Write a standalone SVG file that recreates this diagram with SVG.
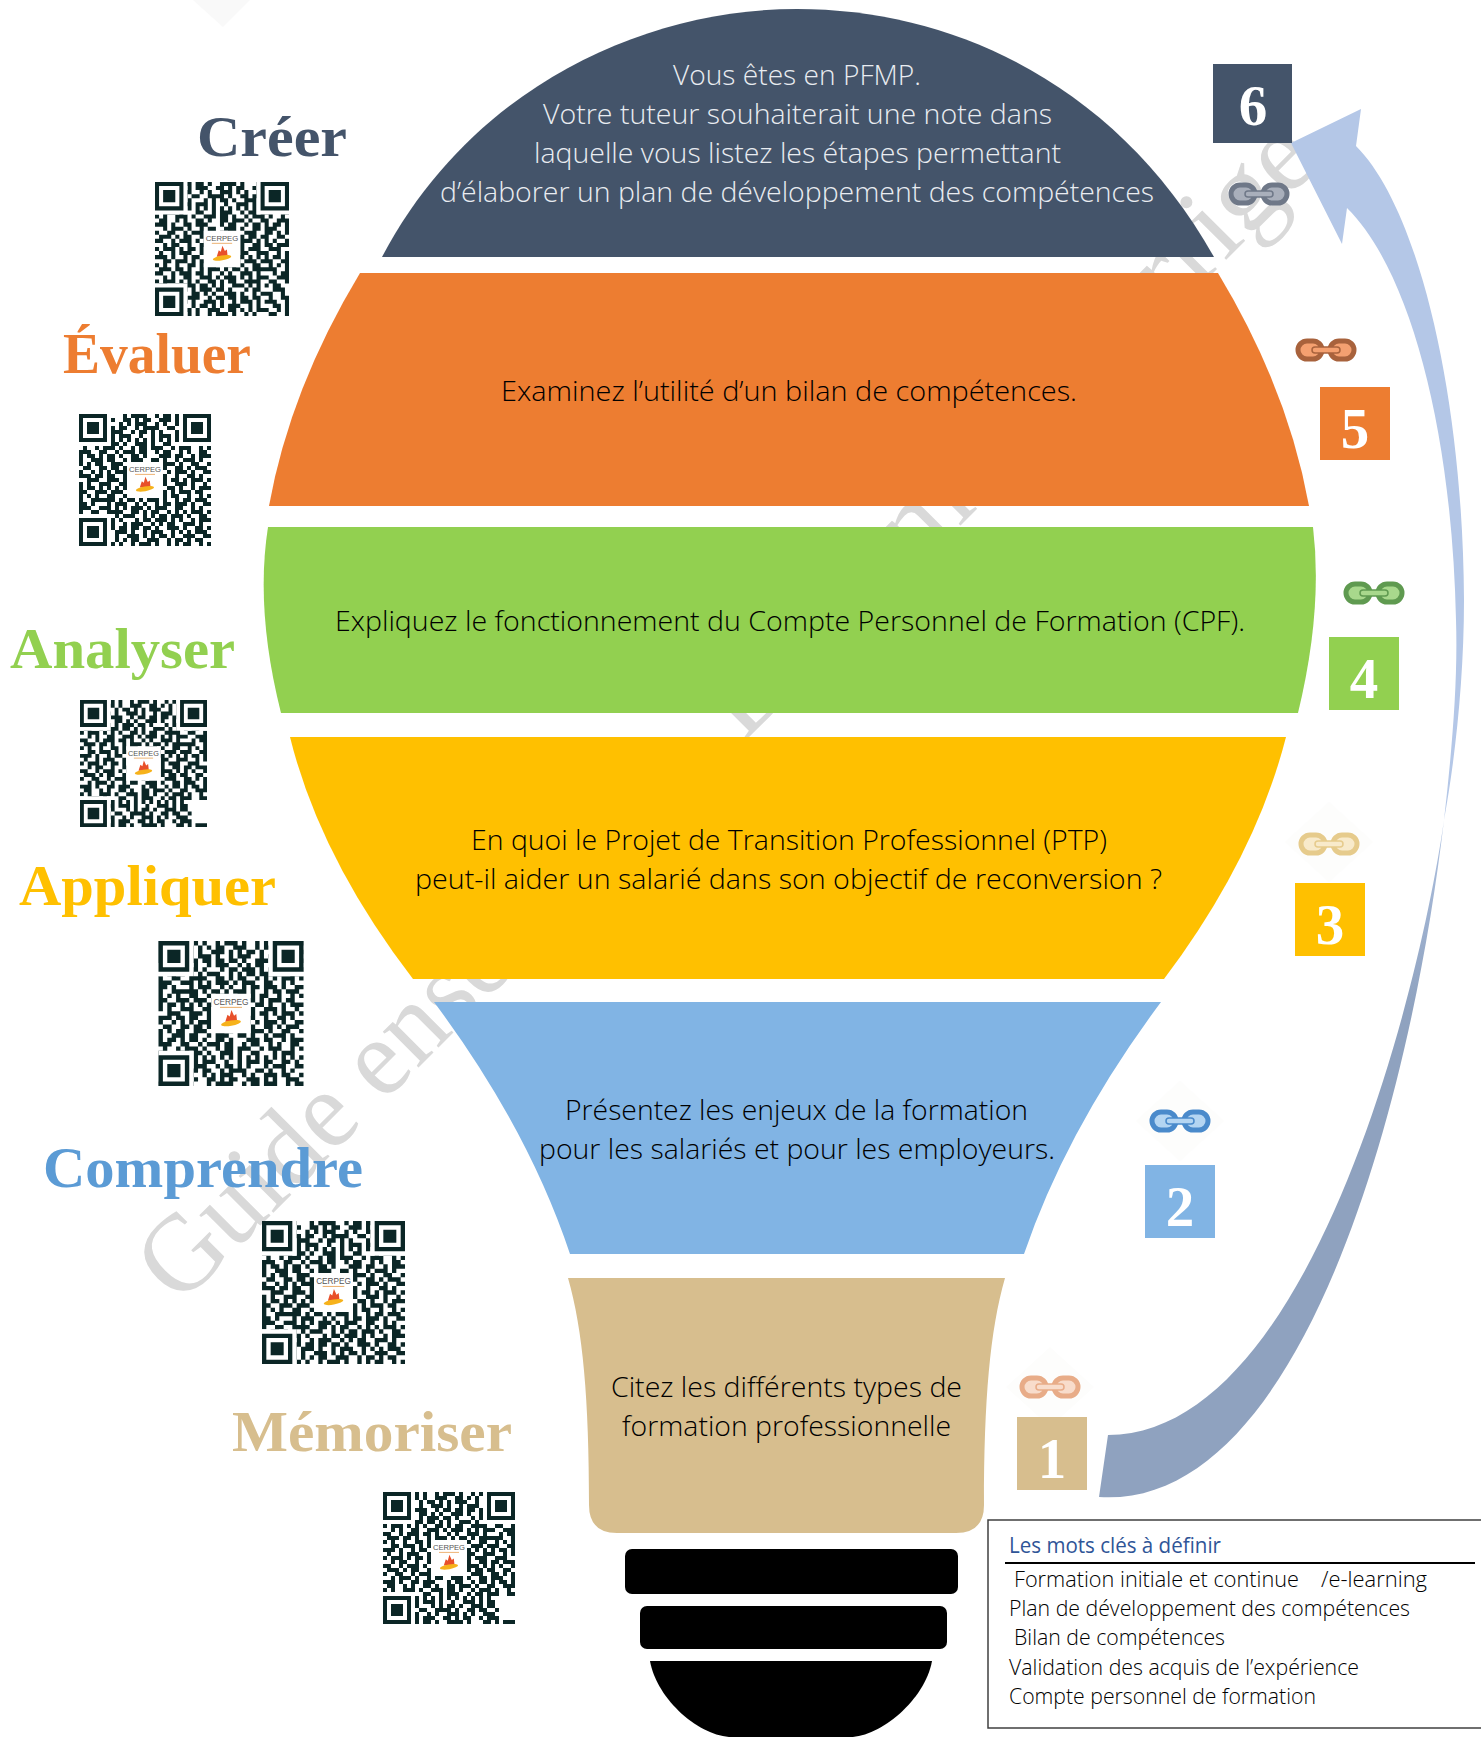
<svg xmlns="http://www.w3.org/2000/svg" width="1481" height="1737" viewBox="0 0 1481 1737">
<style>
.b{font-family:"Open Sans","Liberation Sans",sans-serif;font-weight:300;font-size:27px;fill:#000}
.k{font-family:"Open Sans","Liberation Sans",sans-serif;font-weight:300;font-size:22px;fill:#000}
.t{font-family:"Liberation Serif",serif;font-weight:700;font-size:57px}
.n{font-family:"Liberation Serif",serif;font-weight:700;font-size:57px;fill:#fff;text-anchor:middle}
</style>
<defs>
<linearGradient id="ag" gradientUnits="userSpaceOnUse" x1="0" y1="780" x2="0" y2="1010">
<stop offset="0" stop-color="#B4C7E7"/><stop offset="1" stop-color="#8FA2BF"/>
</linearGradient>
<path id="qrd" fill="none" stroke="#0B2626" stroke-width="1" d="M0 .5h2m1 0h1m2 0h3m1 0h2m1 0h1m2 0h4m1 0h1m3 0h2m1 0h1m1 0h3M1 1.5h3m2 0h1m1 0h1m1 0h3m2 0h2m1 0h1m1 0h2m2 0h1m1 0h3M0 2.5h1m2 0h2m1 0h3m2 0h1m1 0h1m2 0h3m1 0h1m1 0h1m2 0h3M2 3.5h1m1 0h1m2 0h1m1 0h2m2 0h4m1 0h1m2 0h2m1 0h2m2 0h1M0 4.5h2m2 0h3m1 0h1m3 0h1m1 0h1m1 0h2m1 0h1m2 0h3m1 0h2M1 5.5h1m1 0h2m2 0h2m1 0h3m1 0h1m2 0h1m2 0h3m1 0h1m1 0h2M0 6.5h1m1 0h1m1 0h1m1 0h1m1 0h1m1 0h1m1 0h1m1 0h1m1 0h1m1 0h1m1 0h1m1 0h1m1 0h1m1 0h1M2 7.5h3m1 0h1m3 0h2m2 0h1m1 0h3m2 0h1m1 0h2m1 0h2M0 8.5h1m1 0h1m2 0h3m1 0h1m2 0h3m1 0h2m1 0h1m2 0h1m1 0h3m1 0h1M1 9.5h2m2 0h1m1 0h1m2 0h2m1 0h1m2 0h2m1 0h3m1 0h1m2 0h2M0 10.5h3m1 0h1m2 0h2m1 0h3m3 0h1m1 0h2m2 0h1m1 0h2m1 0h1M2 11.5h1m1 0h3m1 0h1m2 0h1m1 0h2m2 0h3m1 0h1m2 0h2m1 0h2M0 12.5h1m2 0h2m2 0h1m1 0h3m1 0h2m1 0h1m1 0h2m2 0h3m2 0h1M1 13.5h3m1 0h1m1 0h2m2 0h1m2 0h3m2 0h1m1 0h1m1 0h2m1 0h2M0 14.5h2m2 0h1m1 0h3m1 0h1m1 0h2m1 0h1m3 0h1m1 0h3m1 0h1m1 0h1M2 15.5h1m1 0h2m2 0h1m2 0h3m1 0h2m1 0h2m1 0h1m2 0h2m1 0h1M0 16.5h1m1 0h3m1 0h1m1 0h2m1 0h1m2 0h1m1 0h3m2 0h1m1 0h3M1 17.5h1m2 0h1m1 0h3m2 0h1m1 0h3m1 0h1m1 0h1m1 0h2m2 0h2M0 18.5h3m1 0h1m2 0h1m1 0h2m2 0h1m2 0h2m1 0h3m1 0h1m1 0h1m1 0h1M2 19.5h2m1 0h3m1 0h1m1 0h3m1 0h1m1 0h1m2 0h1m1 0h3m1 0h1M0 20.5h1m1 0h1m2 0h1m2 0h2m1 0h1m1 0h2m2 0h3m1 0h1m2 0h2M1 21.5h3m1 0h2m1 0h1m2 0h1m1 0h3m1 0h1m1 0h2m1 0h1m1 0h3M0 22.5h2m2 0h1m1 0h3m1 0h2m1 0h1m2 0h1m1 0h1m2 0h3m1 0h1M2 23.5h1m1 0h1m2 0h2m2 0h3m1 0h1m1 0h3m1 0h1m1 0h1m1 0h2M0 24.5h1m1 0h3m1 0h1m1 0h1m1 0h1m2 0h2m1 0h1m1 0h2m2 0h4M1 25.5h2m2 0h1m1 0h3m1 0h2m1 0h1m1 0h1m2 0h3m1 0h1m1 0h1M0 26.5h3m1 0h1m2 0h1m1 0h1m1 0h3m1 0h2m1 0h1m3 0h1m1 0h2M2 27.5h1m1 0h3m2 0h2m1 0h1m1 0h1m2 0h3m1 0h1m2 0h1m1 0h1M0 28.5h1m1 0h2m2 0h1m1 0h3m2 0h1m1 0h2m1 0h2m1 0h2m1 0h2M1 29.5h3m1 0h1m1 0h1m1 0h1m2 0h3m1 0h1m2 0h1m1 0h3m1 0h1M0 30.5h2m2 0h3m2 0h1m1 0h2m1 0h1m1 0h1m1 0h3m2 0h1m1 0h1M2 31.5h2m1 0h1m1 0h2m1 0h1m2 0h3m2 0h2m1 0h1m1 0h1m1 0h2M0 32.5h1m1 0h1m2 0h2m1 0h1m1 0h1m2 0h1m1 0h3m1 0h1m2 0h1m1 0h1M27 7.5h2m2 0h2M28 8.5h1m2 0h1M27 9.5h1m2 0h3M29 10.5h2m1 0h1M27 11.5h3m2 0h1M28 12.5h1m1 0h1m1 0h1M27 13.5h1m2 0h2M29 14.5h1m2 0h1M27 15.5h2m1 0h3M28 16.5h3M27 17.5h1m2 0h1m1 0h1M29 18.5h2m1 0h1M27 19.5h2m2 0h2M28 20.5h1m1 0h1m1 0h1M27 21.5h3m2 0h1M29 22.5h1m1 0h2M27 23.5h1m2 0h3M28 24.5h2m2 0h1M27 25.5h1m1 0h2M29 26.5h3M27 27.5h2m2 0h1M28 28.5h1m2 0h2M27 29.5h3m2 0h1M29 30.5h2m1 0h1M27 31.5h1m2 0h1m1 0h1M28 32.5h2m2 0h1"/>
<g id="qrf">
<path fill="#fff" d="M0 0h8v8H0zM25 0h8v8h-8zM0 25h8v8H0zM12 12h9v9h-9z"/>
<path fill="#0B2626" fill-rule="evenodd" d="M0 0h7v7H0zM1 1v5h5V1zM2 2h3v3H2zM26 0h7v7h-7zM27 1v5h5V1zM28 2h3v3h-3zM0 26h7v7H0zM1 27v5h5v-5zM2 28h3v3H2z"/>
<text x="16.5" y="14.6" font-family="Liberation Sans,sans-serif" font-size="1.9" fill="#555" text-anchor="middle">CERPEG</text>
<path d="M14 15.1h5" stroke="#E8A050" stroke-width=".2"/>
<path d="M15.2 18.4l.5-1.6.5.4.4-1.5.6 1.3.5-.4.2 1.8z" fill="#E8502A"/>
<ellipse cx="16.5" cy="18.7" rx="2.3" ry=".6" fill="#F6B21B" transform="rotate(-10 16.5 18.7)"/>
</g>
<symbol id="qr1" viewBox="0 0 33 33"><use href="#qrd"/><use href="#qrf"/></symbol>
<symbol id="qr2" viewBox="0 0 33 33"><use href="#qrd" transform="matrix(-1 0 0 1 33 0)"/><use href="#qrf"/></symbol>
<symbol id="qr3" viewBox="0 0 33 33"><use href="#qrd" transform="matrix(1 0 0 -1 0 33)"/><use href="#qrf"/></symbol>
<symbol id="qr4" viewBox="0 0 33 33"><use href="#qrd" transform="matrix(-1 0 0 -1 33 33)"/><use href="#qrf"/></symbol>
<symbol id="chain" viewBox="0 0 62 24">
<rect x="3" y="3" width="24" height="18" rx="9" stroke="currentColor" stroke-width="5"/>
<rect x="35" y="3" width="24" height="18" rx="9" stroke="currentColor" stroke-width="5"/>
<rect x="17" y="9" width="28" height="6" rx="3" stroke="currentColor" stroke-width="1.5"/>
</symbol>
</defs>

<rect width="1481" height="1737" fill="#fff"/>
<g id="watermark" font-family="Liberation Serif,serif" fill="#D9D9D9" transform="rotate(-45 179.5 1306.5)">
<text x="179.5" y="1306.5" font-size="110" textLength="745" lengthAdjust="spacingAndGlyphs">Guide enseignant</text>
<text x="976.5" y="1306.5" font-size="113">Document corrigé</text>
</g>
<polygon points="193,0 250,0 223,27" fill="#F9F9F9"/>

<g id="connectors">
<path d="M1291 143L1361 109L1356 146C1420 210 1463 400 1464 600C1464 680 1455 760 1444 820C1452 750 1458 680 1456 620C1452 430 1410 270 1347 208L1342 244Z" fill="#B4C7E7"/>
<path d="M1444 820C1420 990 1310 1435 1108 1435L1099 1497C1300 1510 1410 1110 1444 820Z" fill="url(#ag)"/>
</g>

<g id="n6"><path d="M382 257C470 90 640 9 797 9C960 9 1120 90 1214 257Z" fill="#44546A"/>
<g class="b" style="fill:#E9ECF1">
<text x="673" y="85" textLength="248" lengthAdjust="spacingAndGlyphs">Vous êtes en PFMP.</text>
<text x="543" y="124" textLength="509" lengthAdjust="spacingAndGlyphs">Votre tuteur souhaiterait une note dans</text>
<text x="534" y="163" textLength="527" lengthAdjust="spacingAndGlyphs">laquelle vous listez les étapes permettant</text>
<text x="440" y="202" textLength="714" lengthAdjust="spacingAndGlyphs">d’élaborer un plan de développement des compétences</text>
</g></g>
<g id="n5"><path d="M360 273H1218Q1288 389 1309 506H269Q290 389 360 273Z" fill="#ED7D31"/>
<text class="b" x="501" y="401" textLength="576" lengthAdjust="spacingAndGlyphs">Examinez l’utilité d’un bilan de compétences.</text></g>
<g id="n4"><path d="M268 527H1313Q1323 610 1298 713H281Q255 610 268 527Z" fill="#92D050"/>
<text class="b" x="335" y="631" textLength="910" lengthAdjust="spacingAndGlyphs">Expliquez le fonctionnement du Compte Personnel de Formation (CPF).</text></g>
<g id="n3"><path d="M290 737H1286Q1255 858 1164 979H413Q320 858 290 737Z" fill="#FFC000"/>
<text class="b" x="471" y="850" textLength="636" lengthAdjust="spacingAndGlyphs">En quoi le Projet de Transition Professionnel (PTP)</text>
<text class="b" x="415" y="889" textLength="747" lengthAdjust="spacingAndGlyphs">peut-il aider un salarié dans son objectif de reconversion ?</text></g>
<g id="n2"><path d="M434 1002H1161Q1067 1128 1024 1254H570Q528 1128 434 1002Z" fill="#81B4E4"/>
<text class="b" x="565" y="1120" textLength="463" lengthAdjust="spacingAndGlyphs">Présentez les enjeux de la formation</text>
<text class="b" x="539" y="1159" textLength="516" lengthAdjust="spacingAndGlyphs">pour les salariés et pour les employeurs.</text></g>
<g id="n1"><path d="M568 1278H1005C990 1330 984 1400 984 1505Q984 1533 956 1533H617Q589 1533 589 1505C589 1400 583 1330 568 1278Z" fill="#D7BE8E"/>
<text class="b" x="611" y="1397" textLength="351" lengthAdjust="spacingAndGlyphs">Citez les différents types de</text>
<text class="b" x="622" y="1436" textLength="329" lengthAdjust="spacingAndGlyphs">formation professionnelle</text></g>

<g id="socket" fill="#000">
<rect x="625" y="1549" width="333" height="45" rx="7"/>
<rect x="640" y="1606" width="307" height="43" rx="7"/>
<path d="M650 1661H932C925 1700 880 1737 850 1737H732C700 1737 657 1700 650 1661Z"/>
</g>

<g id="titles">
<text class="t" x="197" y="156" fill="#44546A" textLength="150" lengthAdjust="spacingAndGlyphs">Créer</text>
<text class="t" x="63" y="373" fill="#ED7D31" textLength="188" lengthAdjust="spacingAndGlyphs">Évaluer</text>
<text class="t" x="10" y="668" fill="#92D050" textLength="225" lengthAdjust="spacingAndGlyphs">Analyser</text>
<text class="t" x="19" y="905" fill="#FFC000" textLength="257" lengthAdjust="spacingAndGlyphs">Appliquer</text>
<text class="t" x="43" y="1187" fill="#5B9BD5" textLength="320" lengthAdjust="spacingAndGlyphs">Comprendre</text>
<text class="t" x="232" y="1451" fill="#D7BE8E" textLength="280" lengthAdjust="spacingAndGlyphs">Mémoriser</text>
</g>

<g id="qrcodes">
<use href="#qr1" x="155" y="182" width="134" height="134"/>
<use href="#qr2" x="79" y="414" width="132" height="132"/>
<use href="#qr3" x="80" y="700" width="127" height="127"/>
<use href="#qr4" x="158" y="941" width="146" height="145"/>
<use href="#qr2" x="262" y="1221" width="143" height="143"/>
<use href="#qr3" x="383" y="1492" width="132" height="132"/>
</g>

<g id="chains">
<polygon points="1329,802 1373,842 1329,882 1285,842" fill="#FDFDFC"/>
<polygon points="1180,1081 1224,1121 1180,1161 1136,1121" fill="#FDFDFC"/>
<polygon points="1050,1347 1094,1387 1050,1427 1006,1387" fill="#FDFDFC"/>
<use href="#chain" x="1228" y="182" width="62" height="24" color="#6F7888" fill="#A9AFBB"/>
<use href="#chain" x="1295" y="338" width="62" height="24" color="#A8623C" fill="#F4A070"/>
<use href="#chain" x="1343" y="581" width="62" height="24" color="#5F9A50" fill="#A8D88C"/>
<use href="#chain" x="1298" y="832" width="62" height="24" color="#E6CB8C" fill="#F8EACB"/>
<use href="#chain" x="1149" y="1109" width="62" height="24" color="#4A8ACB" fill="#B4D5F2"/>
<use href="#chain" x="1019" y="1375" width="62" height="24" color="#E8AC88" fill="#F8DCCB"/>
</g>

<g id="badges">
<g id="b6"><rect x="1213" y="64" width="79" height="79" fill="#44546A"/><text class="n" x="1253" y="125">6</text></g>
<g id="b5"><rect x="1320" y="387" width="70" height="73" fill="#ED7D31"/><text class="n" x="1355" y="448">5</text></g>
<g id="b4"><rect x="1329" y="637" width="70" height="73" fill="#92D050"/><text class="n" x="1364" y="698">4</text></g>
<g id="b3"><rect x="1295" y="883" width="70" height="73" fill="#FFC000"/><text class="n" x="1330" y="944">3</text></g>
<g id="b2"><rect x="1145" y="1165" width="70" height="73" fill="#81B4E4"/><text class="n" x="1180" y="1226">2</text></g>
<g id="b1"><rect x="1017" y="1417" width="70" height="73" fill="#D7BE8E"/><text class="n" x="1052" y="1478">1</text></g>
</g>

<g id="keywords">
<path d="M1490 1520H988V1728H1490" fill="none" stroke="#404040" stroke-width="1.5"/>
<path d="M1005 1563H1475" stroke="#000" stroke-width="2"/>
<text x="1009" y="1553" font-family="Open Sans,Liberation Sans,sans-serif" font-size="22" font-weight="500" fill="#2F5597" textLength="212" lengthAdjust="spacingAndGlyphs">Les mots clés à définir</text>
<text class="k" x="1014" y="1587"><tspan textLength="285" lengthAdjust="spacingAndGlyphs">Formation initiale et continue</tspan><tspan x="1321" textLength="106" lengthAdjust="spacingAndGlyphs">/e-learning</tspan></text>
<text class="k" x="1009" y="1616" textLength="401" lengthAdjust="spacingAndGlyphs">Plan de développement des compétences</text>
<text class="k" x="1014" y="1645" textLength="211" lengthAdjust="spacingAndGlyphs">Bilan de compétences</text>
<text class="k" x="1009" y="1675" textLength="350" lengthAdjust="spacingAndGlyphs">Validation des acquis de l’expérience</text>
<text class="k" x="1009" y="1704" textLength="307" lengthAdjust="spacingAndGlyphs">Compte personnel de formation</text>
</g>
</svg>
